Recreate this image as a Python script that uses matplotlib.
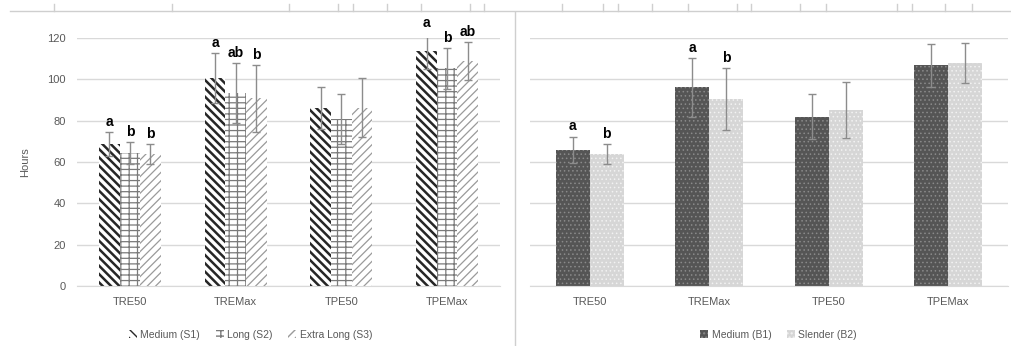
import numpy as np
import matplotlib as mpl
mpl.use('Agg')
import matplotlib.pyplot as plt
from matplotlib.lines import Line2D

# data
cats = ['TRE50', 'TREMax', 'TPE50', 'TPEMax']

s_names = ['Medium (S1)', 'Long (S2)', 'Extra Long (S3)']
s1 = [68.7, 100.5, 86.0, 113.7]
s2 = [64.5, 93.2, 80.8, 105.3]
s3 = [63.9, 90.8, 86.3, 108.9]
s1_err = [6.0, 12.1, 10.1, 8.9]
s2_err = [5.3, 14.5, 12.1, 10.0]
s3_err = [4.8, 16.1, 14.2, 9.0]
s_letters = [['a', 'b', 'b'], ['a', 'ab', 'b'], ['', '', ''], ['a', 'b', 'ab']]

b_names = ['Medium (B1)', 'Slender (B2)']
b1 = [65.8, 96.1, 81.9, 106.8]
b2 = [63.9, 90.5, 85.2, 107.9]
b1_err = [6.5, 14.4, 11.0, 10.4]
b2_err = [4.7, 14.8, 13.7, 9.8]
b_letters = [['a', 'b'], ['a', 'b'], ['', ''], ['', '']]

grey = '#595959'
plt.rcParams['font.family'] = ['Liberation Sans', 'DejaVu Sans']

fig = plt.figure(figsize=(10.11, 3.46), dpi=100)
ax1 = fig.add_axes([77/1011, 60/346, 423/1011, 248/346])
ax2 = fig.add_axes([530/1011, 60/346, 478/1011, 248/346])

x = np.arange(len(cats))


def style(ax, labels=True):
    ax.set_xlim(-0.5, len(cats) - 0.5)
    ax.set_ylim(0, 120)
    ax.set_yticks(np.arange(0, 121, 20))
    ax.grid(axis='y', color='#d9d9d9', lw=1)
    ax.set_axisbelow(True)
    for s in ['top', 'right', 'left']:
        ax.spines[s].set_visible(False)
    ax.spines['bottom'].set_color('#d9d9d9')
    ax.tick_params(length=0, labelsize=8, colors=grey, pad=8)
    ax.set_xticks(x)
    ax.set_xticklabels(cats)
    if not labels:
        ax.set_yticklabels([])


# left panel
style(ax1)
w = 0.195
s_vals = [s1, s2, s3]
s_errs = [s1_err, s2_err, s3_err]
s_hatch = ['\\\\\\\\', '---||', '////']
s_edge = ['#262626', '#7a7a7a', '#9a9a9a']
s_hlw = [1.8, 0.9, 0.9]
handles = []
for i in range(3):
    pos = x + (i - 1) * w
    with plt.rc_context({'hatch.linewidth': s_hlw[i]}):
        bars = ax1.bar(pos, s_vals[i], w, color='white', edgecolor=s_edge[i],
                       hatch=s_hatch[i], lw=0, label=s_names[i])
    ax1.errorbar(pos, s_vals[i], yerr=s_errs[i], fmt='none',
                 ecolor='#8c8c8c', elinewidth=1, capsize=3)
    handles.append(bars)
    for j in range(len(cats)):
        t = s_letters[j][i]
        if t:
            ax1.text(pos[j], s_vals[i][j] + s_errs[i][j] + 1.5, t,
                     ha='center', va='bottom', fontsize=10, fontweight='bold')
ax1.set_ylabel('Hours', fontsize=8, color=grey, labelpad=12)
ax1.legend(handles=handles, loc='upper center', bbox_to_anchor=(0.41, -0.14),
           ncol=3, frameon=False, fontsize=7.5, labelcolor=grey,
           handlelength=0.8, handleheight=0.8, handletextpad=0.3,
           columnspacing=1.5)

# right panel
style(ax2, labels=False)
w2 = 0.285
b_vals = [b1, b2]
b_errs = [b1_err, b2_err]
b_face = ['#555555', '#d6d6d6']
b_edge = ['#8a8a8a', '#f2f2f2']
handles = []
for i in range(2):
    pos = x + (i - 0.5) * w2
    with plt.rc_context({'hatch.linewidth': 0.6}):
        bars = ax2.bar(pos, b_vals[i], w2, color=b_face[i], edgecolor=b_edge[i],
                       hatch='....', lw=0, label=b_names[i])
    ax2.errorbar(pos, b_vals[i], yerr=b_errs[i], fmt='none',
                 ecolor='#8c8c8c', elinewidth=1, capsize=3)
    handles.append(bars)
    for j in range(len(cats)):
        t = b_letters[j][i]
        if t:
            ax2.text(pos[j], b_vals[i][j] + b_errs[i][j] + 1.5, t,
                     ha='center', va='bottom', fontsize=10, fontweight='bold')
ax2.legend(handles=handles, loc='upper center', bbox_to_anchor=(0.52, -0.14),
           ncol=2, frameon=False, fontsize=7.5, labelcolor=grey,
           handlelength=0.8, handleheight=0.8, handletextpad=0.3,
           columnspacing=1.5)

# frame lines of the original page
fig.add_artist(Line2D([10/1011, 1], [1 - 11/346] * 2, color='#cfcfcf', lw=1))
fig.add_artist(Line2D([515/1011] * 2, [0, 1 - 12/346], color='#cfcfcf', lw=1))
for tx in [54, 172, 289, 338, 353, 387, 421, 470, 484, 562, 603, 618, 652,
           688, 737, 751, 800, 826, 897, 912, 945, 972]:
    fig.add_artist(Line2D([tx/1011] * 2, [1 - 11/346, 1 - 4/346],
                          color='#cfcfcf', lw=1))

fig.savefig('out.png', dpi=100)
